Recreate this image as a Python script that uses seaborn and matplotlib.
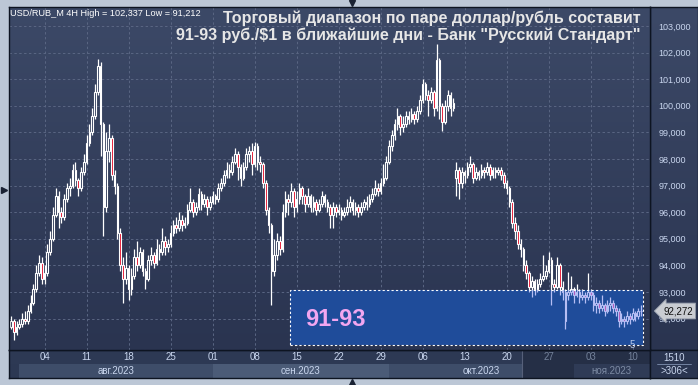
import numpy as np
import pandas as pd
import seaborn as sns
import matplotlib
matplotlib.use("Agg")
from matplotlib import pyplot as plt
from matplotlib.patches import Rectangle
from matplotlib.lines import Line2D
from matplotlib.colors import LinearSegmentedColormap

# 4H candles USD/RUB_M (3 per trading day)

close = [
    91.9, 91.5, 91.7, 91.8, 92.0, 91.9, 92.3, 92.6, 93.1, 93.7,
    94.1, 93.5, 93.7, 94.5, 95.0, 95.9, 96.6, 96.0, 95.8, 96.5,
    96.9, 97.0, 97.6, 97.2, 96.9, 97.5, 97.9, 98.6, 99.0, 99.6,
    100.5, 101.5, 99.3, 96.2, 98.3, 98.8, 97.4, 97.0, 95.2, 94.0,
    93.5, 93.9, 93.1, 93.6, 94.3, 94.0, 94.5, 93.8, 93.5, 94.2,
    94.4, 94.1, 94.6, 94.5, 94.9, 94.7, 94.8, 95.2, 95.5, 95.4,
    95.7, 95.5, 95.6, 96.1, 96.4, 96.0, 96.2, 96.7, 96.3, 96.5,
    96.2, 96.4, 96.6, 96.5, 96.9, 97.1, 97.4, 97.6, 97.5, 97.9,
    98.2, 97.7, 97.3, 97.7, 98.2, 98.3, 97.8, 98.5, 97.9, 97.8,
    97.1, 96.1, 95.5, 93.8, 94.4, 94.9, 94.6, 96.0, 96.5, 96.4,
    96.8, 96.2, 96.5, 96.9, 96.6, 96.3, 96.6, 96.2, 96.4, 96.1,
    96.3, 96.6, 96.4, 96.2, 95.9, 96.2, 96.0, 96.1, 95.9, 96.0,
    96.2, 96.4, 96.1, 96.2, 96.0, 96.2, 96.4, 96.3, 96.5, 96.7,
    96.9, 96.8, 97.1, 97.3, 97.9, 98.5, 98.9, 99.3, 99.6, 99.2,
    99.3, 99.6, 99.5, 99.7, 99.5, 99.8, 100.2, 100.8, 100.4, 100.2,
    100.5, 99.9, 101.7, 100.0, 99.4, 100.0, 100.4, 99.9, 100.1, 97.6,
    97.1, 97.5, 97.4, 97.7, 97.8, 97.3, 97.5, 97.4, 97.6, 97.5,
    97.7, 97.4, 97.6, 97.5, 97.6, 97.4, 97.1, 96.9, 96.4, 95.6,
    95.3, 94.8, 94.6, 94.0, 93.7, 93.2, 93.4, 93.1, 93.3, 93.5,
    93.6, 93.8, 94.2, 93.3, 93.2, 94.0, 93.2, 93.0, 91.9, 93.0,
    93.1, 92.9, 93.0, 92.8, 92.9, 92.8, 93.0, 92.9, 92.5, 92.6,
    92.4, 92.5, 92.3, 92.5, 92.6, 92.4, 92.3, 91.9, 92.0, 91.9,
    92.1, 92.0, 92.2, 92.1, 92.3, 92.272,
]

high = [
    92.1, 92.0, 91.9, 92.0, 92.2, 92.3, 92.5, 92.9, 93.3, 94.0,
    94.4, 94.3, 94.0, 94.8, 95.3, 96.2, 96.9, 96.8, 96.2, 96.7,
    97.1, 97.3, 97.8, 97.9, 97.3, 97.7, 98.2, 98.9, 99.3, 99.9,
    100.8, 101.75, 101.65, 99.4, 99.0, 99.3, 98.9, 97.6, 97.1, 95.4,
    94.3, 94.5, 94.0, 93.9, 94.6, 94.9, 94.7, 94.6, 93.9, 94.4,
    94.7, 94.5, 95.0, 94.8, 95.4, 95.1, 95.0, 95.5, 95.7, 95.8,
    96.0, 95.9, 95.8, 96.3, 96.9, 96.5, 96.4, 96.9, 96.8, 96.7,
    96.6, 96.6, 96.8, 96.7, 97.1, 97.3, 97.6, 97.9, 97.8, 98.1,
    98.4, 98.3, 97.8, 97.9, 98.4, 98.5, 98.6, 98.65, 98.6, 98.1,
    97.9, 97.2, 96.2, 95.6, 95.0, 95.2, 95.1, 96.3, 96.8, 96.7,
    97.1, 96.9, 96.8, 97.1, 97.0, 96.7, 96.9, 96.7, 96.6, 96.5,
    96.5, 96.8, 96.7, 96.5, 96.3, 96.4, 96.3, 96.3, 96.2, 96.2,
    96.5, 96.6, 96.5, 96.4, 96.3, 96.4, 96.5, 96.6, 96.7, 96.9,
    97.2, 97.1, 97.3, 97.8, 98.1, 98.7, 99.1, 99.5, 99.9, 99.7,
    99.6, 99.8, 99.8, 99.9, 99.8, 100.0, 100.4, 101.0, 100.9, 100.6,
    100.7, 100.6, 102.337, 101.8, 100.1, 100.2, 100.6, 100.5, 100.3, 97.9,
    97.7, 97.7, 97.6, 97.9, 98.1, 97.9, 97.7, 97.6, 97.8, 97.7,
    97.9, 97.8, 97.7, 97.7, 97.7, 97.7, 97.5, 97.2, 97.0, 96.5,
    95.8, 95.5, 95.0, 94.7, 94.2, 93.8, 93.6, 93.5, 93.5, 93.7,
    94.4, 94.0, 94.5, 94.3, 93.5, 94.3, 94.1, 93.4, 93.1, 93.75,
    93.6, 93.2, 93.3, 93.1, 93.1, 93.0, 93.7, 93.1, 93.0, 92.8,
    92.7, 92.9, 92.6, 92.7, 92.8, 92.7, 92.5, 92.4, 92.2, 92.1,
    92.3, 92.2, 92.4, 92.3, 92.4, 92.5,
]

low = [
    91.6, 91.212, 91.4, 91.6, 91.7, 91.8, 91.8, 92.2, 92.5, 93.0,
    93.6, 93.3, 93.3, 93.6, 94.4, 94.9, 95.8, 95.4, 95.6, 95.7,
    96.4, 96.6, 96.9, 97.0, 96.6, 96.8, 97.4, 97.8, 98.5, 98.9,
    99.5, 100.4, 98.1, 95.1, 96.0, 97.9, 97.2, 96.7, 95.0, 93.8,
    92.6, 93.3, 92.7, 92.9, 93.5, 93.8, 93.9, 93.6, 93.1, 93.4,
    94.0, 93.9, 94.0, 94.2, 94.4, 94.4, 94.5, 94.7, 95.1, 95.2,
    95.3, 95.3, 95.4, 95.5, 96.0, 95.8, 95.9, 96.1, 96.1, 96.2,
    95.9, 96.1, 96.3, 96.3, 96.4, 96.8, 97.0, 97.3, 97.3, 97.4,
    97.8, 97.2, 97.0, 97.2, 97.6, 97.9, 97.4, 97.7, 97.6, 97.5,
    96.9, 95.9, 95.2, 92.5, 93.6, 94.2, 94.4, 94.5, 95.8, 95.9,
    96.2, 95.8, 96.0, 96.3, 96.3, 96.0, 96.2, 96.0, 96.0, 95.9,
    96.0, 96.2, 96.2, 96.0, 95.4, 95.4, 95.8, 95.9, 95.7, 95.8,
    95.9, 96.0, 95.9, 95.9, 95.8, 95.9, 96.1, 96.1, 96.2, 96.4,
    96.6, 96.6, 96.7, 97.0, 97.2, 97.8, 98.3, 98.7, 99.1, 98.9,
    99.0, 99.2, 99.3, 99.4, 99.3, 99.4, 99.7, 100.1, 100.2, 99.6,
    100.1, 99.6, 99.8, 99.5, 99.05, 99.3, 99.8, 99.6, 99.8, 96.6,
    96.5, 96.9, 97.1, 97.3, 97.5, 97.1, 97.2, 97.2, 97.3, 97.3,
    97.4, 97.2, 97.3, 97.3, 97.4, 97.2, 96.9, 96.7, 96.2, 95.4,
    95.0, 94.6, 94.3, 93.8, 93.5, 93.0, 92.8, 92.9, 93.0, 93.2,
    93.4, 93.5, 93.7, 92.5, 93.0, 93.1, 92.9, 92.7, 91.6, 92.7,
    92.9, 92.6, 92.8, 92.6, 92.7, 92.6, 92.7, 92.7, 92.3, 92.2,
    92.2, 92.3, 92.1, 92.2, 92.3, 92.2, 92.1, 91.7, 91.8, 91.7,
    91.8, 91.8, 91.9, 91.9, 92.0, 92.1,
]

# candles that open away from the previous close (gaps)
open_gaps = {0: 91.7, 159: 97.3, 198: 93.0, 199: 92.9}

month_names = ['авг.2023', 'сен.2023', 'окт.2023', 'ноя.2023']
y_levels = list(range(92, 104))
zone_lo, zone_hi = 91.0, 93.07
last_price = '92,272'
header = 'USD/RUB_M 4H High = 102,337 Low = 91,212'
title = ('Торговый диапазон по паре доллар/рубль составит\n'
         '91-93 руб./$1 в ближайшие дни - Банк "Русский Стандарт"')

# Building the candle table

days = pd.bdate_range('2023-07-31', '2023-11-13')
stamps = pd.DatetimeIndex([d + pd.Timedelta(hours=h) for d in days for h in (10, 14, 18)])

df = pd.DataFrame({'date': stamps[:len(close)], 'close': close, 'high': high, 'low': low})
df['open'] = df['close'].shift(1)
for k, v in open_gaps.items():
    df.loc[k, 'open'] = v
df['x'] = np.arange(len(df))
df['bull'] = df['close'] >= df['open']
df['top'] = df[['open', 'close']].max(axis=1)
df['bot'] = df[['open', 'close']].min(axis=1)

fridays = df[(df.date.dt.dayofweek == 4) & (df.date.dt.hour == 10)]
week_pos = fridays.x.tolist()
week_lbl = [f'{d.day:02d}' for d in fridays.date]

aug_on = df[df.date >= '2023-08-01']
month_start = aug_on.groupby(aug_on.date.dt.month)['x'].min().tolist()
month_edges = month_start + [228.2]

# Theme and figure

sns.set_theme(style='dark', rc={'figure.dpi': 100, 'savefig.dpi': 100})
plt.rcParams['font.family'] = ['Liberation Sans', 'DejaVu Sans']

W, H = 698, 385
fig = plt.figure(figsize=(W / 100, H / 100), dpi=100, facecolor='#bcc7d6')


def box(x0, y0, x1, y1):
    return fig.add_axes([x0 / W, 1 - y1 / H, (x1 - x0) / W, (y1 - y0) / H])


grad = LinearSegmentedColormap.from_list('bg', ['#2a3450', '#3c4967'])
grad_arr = np.linspace(1, 0, 256)[:, None]
xmin, xmax = -0.7, 228.2
ymin, ymax = 90.82, 103.71

# right price panel
axr = box(650, 7, 698, 350)
axr.imshow(grad_arr, cmap=grad, extent=[0, 1, 0, 1], aspect='auto', transform=axr.transAxes)
axr.set_xticks([]); axr.set_yticks([])
for s in axr.spines.values():
    s.set_color('#0d1421'); s.set_linewidth(1)

# main chart
ax = box(9, 7, 650, 350)
ax.set_zorder(2)
ax.imshow(grad_arr, cmap=grad, extent=[xmin, xmax, ymin, ymax], aspect='auto', zorder=0)
ax.set_xlim(xmin, xmax)
ax.set_ylim(ymin, ymax)
ax.yaxis.tick_right()
ax.set_yticks(y_levels)
ax.set_yticklabels([f'{v:.3f}'.replace('.', ',') for v in y_levels])
ax.tick_params(axis='y', length=0, pad=6, labelsize=6.5, labelcolor='#c9d6ee')
ax.set_xticks(week_pos)
ax.tick_params(axis='x', length=0, labelbottom=False)
ax.grid(True, color='#5a6683', lw=0.7, ls=(0, (2.5, 2.5)))
for s in ax.spines.values():
    s.set_color('#0d1421'); s.set_linewidth(1)


def draw_candles(edge, bear, z, clip=None):
    arts = [
        ax.vlines(df.x, df.top, df.high, color=edge, lw=0.9, zorder=z),
        ax.vlines(df.x, df.low, df.bot, color=edge, lw=0.9, zorder=z),
    ]
    bars = ax.bar(df.x, (df.top - df.bot).clip(lower=0.03), bottom=df.bot, width=0.62,
                  color=np.where(df.bull, 'none', bear), edgecolor=edge,
                  linewidth=0.8, zorder=z)
    arts += list(bars.patches)
    if clip is not None:
        for a in arts:
            a.set_clip_path(clip)


draw_candles('white', '#e3102c', 2)

x0_zone, x1_zone = 99.6, 225.8
ax.add_patch(Rectangle((x0_zone, zone_lo), x1_zone - x0_zone, zone_hi - zone_lo,
                       facecolor='#1f4c9a', edgecolor='none', zorder=3))
clip_rect = Rectangle((x0_zone, zone_lo), x1_zone - x0_zone, zone_hi - zone_lo,
                      transform=ax.transData)
draw_candles('#b6bef4', '#b452b4', 4, clip=clip_rect)
ax.add_patch(Rectangle((x0_zone, zone_lo), x1_zone - x0_zone, zone_hi - zone_lo,
                       fill=False, edgecolor='white', lw=0.8, ls=(0, (2, 2)), zorder=5))
ax.text(105, 91.95, '91-93', fontsize=17, fontweight='bold', color='#f2a6f0',
        ha='left', va='center', zorder=6)
ax.text(221.8, 91.02, '5', fontsize=7, color='#b8c8e8', ha='center', va='center', zorder=6)

# date band
axd = box(9, 350, 650, 378)
axd.set_xlim(xmin, xmax)
axd.set_ylim(0, 1)
axd.set_facecolor('#2d3954')
axd.set_xticks([]); axd.set_yticks([])
for s in axd.spines.values():
    s.set_color('#0d1421'); s.set_linewidth(1)
dark_from = 182.4
axd.add_patch(Rectangle((xmin, 0), month_edges[0] - xmin, 0.5, color='#2c3853', lw=0))
band_cols = ['#3e4d69', '#4b5b77', '#3e4d69', '#2f3b56']
for a, b, c in zip(month_edges[:-1], month_edges[1:], band_cols):
    axd.add_patch(Rectangle((a, 0), b - a, 0.5, color=c, lw=0))
axd.add_patch(Rectangle((dark_from, 0.5), xmax - dark_from, 0.5, color='#252f46', lw=0))
axd.add_patch(Rectangle((dark_from, 0), month_edges[3] - dark_from, 0.5, color='#252f46', lw=0))
axd.axvline(dark_from, color='#56607a', lw=0.8)
for p, l in zip(week_pos, week_lbl):
    axd.text(p, 0.76, l, ha='center', va='center', fontsize=7,
             color='#c9d6ee' if p < dark_from else '#74829b')
for a, b, m in zip(month_edges[:-1], month_edges[1:], month_names):
    axd.text((a + b) / 2, 0.26, m, ha='center', va='center', fontsize=7,
             color='#c9d6ee' if a < dark_from else '#7d8ba4')

# corner box
axb = box(650, 350, 698, 378)
axb.set_facecolor('#2a3550')
axb.set_xticks([]); axb.set_yticks([])
axb.set_xlim(0, 1); axb.set_ylim(0, 1)
for s in axb.spines.values():
    s.set_color('#0d1421'); s.set_linewidth(1)
axb.text(0.5, 0.73, '1510', ha='center', va='center', fontsize=7, color='#c9d6ee')
axb.text(0.5, 0.26, '>306<', ha='center', va='center', fontsize=7, color='#c9d6ee')
axb.plot([0.15, 0.85], [0.5, 0.5], color='#8090b0', lw=0.6)

# texts
fig.text(10 / W, 1 - 9 / H, header, ha='left', va='top', fontsize=6.6, color='white')
fig.text(641 / W, 1 - 11 / H, title, ha='right', va='top', fontsize=11.6,
         fontweight='bold', color='#e6e6e6', linespacing=1.1)
fig.text(663 / W, 1 - 311 / H, last_price, ha='left', va='center', fontsize=7,
         color='#101010', zorder=10,
         bbox=dict(boxstyle='larrow,pad=0.3', fc='#c9ccd2', ec='#9098a8', lw=0.6))

for mx, my, mk in [(352, 3, 'v'), (352, 382, '^'), (4, 190, '>')]:
    fig.add_artist(Line2D([mx / W], [1 - my / H], marker=mk, markersize=5,
                          color='#1a2233', transform=fig.transFigure))

fig.savefig('out.png', dpi=100, facecolor=fig.get_facecolor())
